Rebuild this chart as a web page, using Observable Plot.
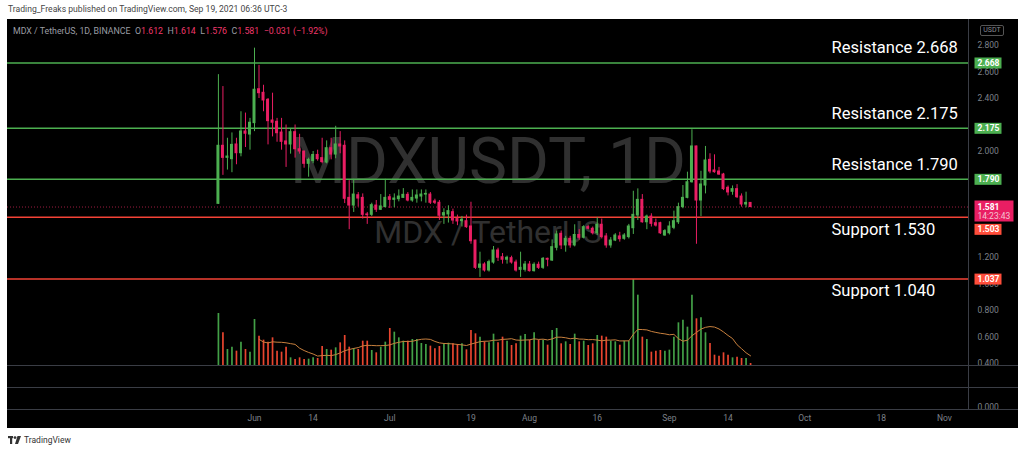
<!DOCTYPE html>
<html>
<head>
<meta charset="utf-8">
<script src="https://cdn.jsdelivr.net/npm/d3@7"></script>
<script src="https://cdn.jsdelivr.net/npm/@observablehq/plot@0.6"></script>
<style>
  html, body { margin: 0; padding: 0; background: #fff; }
  body { width: 1024px; height: 454px; position: relative; overflow: hidden; font-family: Roboto, "Liberation Sans", sans-serif; }
  #pub { position: absolute; left: 8px; top: 4px; font-size: 8.6px; color: #454545; white-space: nowrap; }
  #chart { position: absolute; left: 7px; top: 19px; width: 1011px; height: 409px; background: #000; overflow: hidden; }
  #chart svg { position: absolute; left: 0; overflow: visible; }
  .sep { position: absolute; left: 0; width: 1011px; height: 1px; background: #3a3d45; }
  #vsep { position: absolute; left: 961px; top: 0; width: 1px; height: 390px; background: #3a3d45; }
  #legend { position: absolute; left: 6px; top: 7px; font-size: 8.8px; color: #9a9ca3; white-space: nowrap; z-index: 5; }
  #legend .v { color: #f0386b; }
  #unit { position: absolute; left: 973px; top: 6px; width: 22px; height: 9px; border: 1px solid #555; border-radius: 2px; font-size: 7px; color: #8a8d95; text-align: center; line-height: 9px; z-index: 5; }
  #logo { position: absolute; left: 8px; top: 435px; font-size: 8.5px; color: #333; display: flex; align-items: center; gap: 3px; }
</style>
</head>
<body>
<div id="pub">Trading_Freaks published on TradingView.com, Sep 19, 2021 06:36 UTC-3</div>
<div id="chart">
  <div id="legend">MDX / TetherUS, 1D, BINANCE&nbsp; O<span class="v">1.612</span>&nbsp; H<span class="v">1.614</span>&nbsp; L<span class="v">1.576</span>&nbsp; C<span class="v">1.581</span>&nbsp; <span class="v">−0.031 (−1.92%)</span></div>
  <div id="unit">USDT</div>
</div>
<div id="logo"><svg width="13" height="8" viewBox="0 0 13 8"><rect x="0" y="0" width="5" height="2.2" fill="#333"/><rect x="2" y="0" width="2.2" height="8" fill="#333"/><circle cx="7" cy="1.6" r="1.4" fill="#333"/><path d="M9.5 0 H13 L10 8 H7 Z" fill="#333"/></svg><span>TradingView</span></div>
<script>
// ---- data (daily candles, first candle 2021-05-24) ----
const firstDay = "2021-05-24";
const open  = [1.605,2.043,1.952,1.942,2.053,1.987,2.151,2.128,2.214,2.47,2.443,2.39,2.234,2.224,2.143,2.076,2.053,2.146,2.017,2.00,1.907,1.927,1.974,1.95,1.917,2.025,1.977,2.053,2.043,1.65,1.592,1.67,1.65,1.525,1.522,1.592,1.56,1.58,1.655,1.635,1.64,1.65,1.673,1.63,1.645,1.66,1.675,1.675,1.623,1.613,1.517,1.525,1.542,1.49,1.474,1.474,1.434,1.328,1.122,1.147,1.102,1.162,1.253,1.202,1.183,1.195,1.162,1.107,1.107,1.147,1.097,1.145,1.122,1.19,1.177,1.273,1.379,1.291,1.341,1.291,1.37,1.349,1.429,1.417,1.383,1.447,1.359,1.291,1.328,1.359,1.341,1.354,1.421,1.517,1.635,1.466,1.509,1.459,1.459,1.366,1.383,1.424,1.466,1.58,1.65,1.768,2.038,1.63,1.743,1.937,1.857,1.849,1.826,1.726,1.696,1.716,1.66,1.60,1.612];
const high  = [2.58,2.49,2.10,2.14,2.10,2.30,2.29,2.25,2.78,2.65,2.50,2.40,2.44,2.25,2.25,2.20,2.17,2.20,2.13,2.00,1.95,2.00,2.01,2.10,2.08,2.10,2.19,2.15,2.08,1.78,1.79,1.69,1.68,1.54,1.61,1.63,1.675,1.79,1.675,1.68,1.71,1.72,1.69,1.71,1.71,1.71,1.71,1.69,1.64,1.63,1.568,1.59,1.565,1.52,1.51,1.52,1.617,1.33,1.24,1.16,1.18,1.283,1.27,1.23,1.21,1.21,1.18,1.24,1.17,1.17,1.16,1.165,1.20,1.195,1.333,1.40,1.40,1.36,1.36,1.447,1.41,1.44,1.44,1.43,1.50,1.49,1.38,1.35,1.38,1.39,1.38,1.45,1.70,1.718,1.675,1.52,1.53,1.49,1.466,1.41,1.47,1.55,1.61,1.743,1.844,2.164,2.04,1.851,2.038,1.983,1.975,1.88,1.835,1.74,1.74,1.75,1.68,1.693,1.614];
const low   = [1.60,1.82,1.86,1.84,1.90,1.96,2.03,2.01,2.15,2.40,2.30,2.05,2.11,2.07,2.01,1.88,1.98,1.95,1.98,1.874,1.806,1.907,1.927,1.907,1.907,1.937,1.945,1.983,1.607,1.41,1.54,1.58,1.49,1.45,1.51,1.54,1.555,1.575,1.57,1.575,1.62,1.645,1.62,1.617,1.61,1.62,1.61,1.60,1.60,1.48,1.45,1.46,1.45,1.44,1.43,1.42,1.30,1.11,1.05,1.09,1.09,1.15,1.17,1.15,1.15,1.15,1.09,1.05,1.09,1.09,1.09,1.11,1.11,1.13,1.17,1.25,1.26,1.24,1.27,1.28,1.33,1.34,1.41,1.37,1.366,1.34,1.27,1.27,1.32,1.316,1.33,1.34,1.374,1.479,1.459,1.41,1.43,1.43,1.374,1.36,1.37,1.41,1.45,1.568,1.643,1.761,1.30,1.509,1.68,1.832,1.836,1.82,1.705,1.665,1.67,1.645,1.58,1.575,1.576];
const close = [2.043,1.952,1.962,2.05,1.987,2.151,2.134,2.217,2.466,2.44,2.385,2.229,2.217,2.138,2.073,2.053,2.146,2.017,2.00,1.907,1.937,1.974,1.942,1.92,2.025,1.977,2.053,2.038,1.643,1.592,1.675,1.645,1.522,1.52,1.595,1.56,1.585,1.65,1.635,1.645,1.66,1.673,1.63,1.65,1.668,1.675,1.68,1.613,1.613,1.515,1.535,1.55,1.479,1.472,1.485,1.429,1.323,1.122,1.147,1.102,1.165,1.253,1.198,1.183,1.198,1.162,1.102,1.122,1.147,1.097,1.145,1.122,1.19,1.183,1.278,1.374,1.291,1.341,1.291,1.37,1.349,1.429,1.417,1.383,1.447,1.354,1.291,1.328,1.366,1.338,1.366,1.434,1.522,1.635,1.466,1.509,1.454,1.441,1.383,1.399,1.434,1.474,1.58,1.65,1.768,2.038,1.63,1.751,1.932,1.849,1.844,1.826,1.716,1.691,1.716,1.655,1.60,1.612,1.581];
// volume in relative units (read as bar heights)
const volume = [156,98,48,55,43,70,48,40,138,88,76,70,83,43,40,55,23,18,23,18,19,23,21,57,48,46,53,68,90,55,51,48,73,73,45,38,55,70,111,100,83,73,73,78,78,66,63,58,50,57,65,67,65,63,65,47,105,95,85,71,68,94,68,85,73,60,65,88,93,76,98,76,76,61,105,111,65,71,63,94,71,73,60,65,90,88,85,73,71,61,73,73,258,211,85,78,40,43,45,43,46,85,128,136,115,211,140,143,98,66,31,28,38,31,23,25,21,21,6];

const levelValues = [2.668, 2.175, 1.790, 1.503, 1.037];
const levelKinds  = ["Resistance", "Resistance", "Resistance", "Support", "Support"];
const levelNames  = ["Resistance 2.668", "Resistance 2.175", "Resistance 1.790", "Support 1.530", "Support 1.040"];
const levelTags   = ["2.668", "2.175", "1.790", "1.503", "1.037"];

const lastPrice = 1.581;
const lastPriceTag = "1.581";
const countdown = "14:23:43";

// price-scale ticks that remain visible (the others sit under the level tags)
const yTicks = [0.4, 0.6, 0.8, 1.0, 1.2, 2.0, 2.4, 2.6, 2.8];
const xTickDates  = ["2021-06-01","2021-06-14","2021-07-01","2021-07-19","2021-08-01","2021-08-16","2021-09-01","2021-09-14","2021-10-01","2021-10-18","2021-11-01"];
const xTickLabels = ["Jun","14","Jul","19","Aug","16","Sep","14","Oct","18","Nov"];
const watermark1 = "MDXUSDT, 1D";
const watermark2 = "MDX / TetherUS";

// ---- build tables ----
const GREEN = "#4caf50", PINK = "#e91e63", RED = "#f44336";
const VGREEN = "#43a047", VRED = "#e8452f";
const DAY = 864e5;
const t0 = new Date(firstDay + "T00:00:00Z");
const candles = open.map((o, i) => ({
  date: d3.utcDay.offset(t0, i),
  open: o, high: high[i], low: low[i], close: close[i], vol: volume[i],
  up: close[i] >= o
}));
const levels = levelValues.map((v, i) => ({value: v, kind: levelKinds[i], name: levelNames[i], tag: levelTags[i]}));
const resist = levels.filter(d => d.kind === "Resistance");
const support = levels.filter(d => d.kind === "Support");
// a level tag that would collide with the last-price tag is pushed just below it (as the price scale does)
const collides = d => Math.abs(d.value - lastPrice) < 0.1;
const tagsFree = levels.filter(d => !collides(d));
const tagsPushed = levels.filter(collides);
const tickDates = xTickDates.map(s => new Date(s + "T00:00:00Z"));
const tickLabelOf = new Map(tickDates.map((d, i) => [+d, xTickLabels[i]]));

const box = (w, h) => ({draw(ctx) { ctx.moveTo(-w/2, -h/2); ctx.lineTo(w/2, -h/2); ctx.lineTo(w/2, h/2); ctx.lineTo(-w/2, h/2); ctx.closePath(); }});
const tagFill = d => d.kind === "Resistance" ? GREEN : "#ff4d3a";

const FONT = "Roboto, 'Liberation Sans', sans-serif";
const xScale = {type: "utc", domain: [tickDates[0], tickDates[tickDates.length - 1]], range: [247, 937]};

// ---- main price pane ----
const main = Plot.plot({
  width: 1011, height: 409,
  marginLeft: 0, marginRight: 50, marginTop: 0, marginBottom: 19,
  style: {background: "transparent", fontFamily: FONT},
  x: xScale,
  y: {domain: [0.4, 2.8], range: [344, 26]},
  color: {type: "identity"},
  marks: [
    Plot.text([watermark1], {text: d => d, frameAnchor: "middle", dy: -52, fontSize: 64, fill: "#303030"}),
    Plot.text([watermark2], {text: d => d, frameAnchor: "middle", dy: 18, fontSize: 32, fill: "#303030"}),
    Plot.ruleY([lastPrice], {stroke: "#9c1b40", strokeDasharray: "1 2"}),
    Plot.ruleY(resist, {y: "value", stroke: GREEN, strokeWidth: 1.5}),
    Plot.ruleY(support, {y: "value", stroke: RED, strokeWidth: 1.5}),
    Plot.ruleX(candles, {filter: d => d.up, x: "date", y1: "low", y2: "high", stroke: GREEN}),
    Plot.ruleX(candles, {filter: d => !d.up, x: "date", y1: "low", y2: "high", stroke: PINK}),
    Plot.rect(candles, {filter: d => d.up, x1: d => new Date(+d.date - 0.33 * DAY), x2: d => new Date(+d.date + 0.33 * DAY), y1: "open", y2: "close", fill: GREEN, insetTop: -0.5, insetBottom: -0.5}),
    Plot.rect(candles, {filter: d => !d.up, x1: d => new Date(+d.date - 0.33 * DAY), x2: d => new Date(+d.date + 0.33 * DAY), y1: "open", y2: "close", fill: PINK, insetTop: -0.5, insetBottom: -0.5}),
    Plot.text(resist, {y: "value", text: "name", frameAnchor: "right", dx: -137, dy: -15, textAnchor: "start", fill: "#fff", fontSize: 16.5}),
    Plot.text(support, {y: "value", text: "name", frameAnchor: "right", dx: -137, dy: 12, textAnchor: "start", fill: "#fff", fontSize: 16.5}),
    Plot.axisY(yTicks, {anchor: "right", tickSize: 0, tickPadding: 9, tickFormat: d3.format(".3f"), fill: "#7d8089", fontSize: 8.5, label: null}),
    Plot.axisX(tickDates, {tickSize: 0, tickPadding: 5, tickFormat: d => tickLabelOf.get(+d), fill: "#7d8089", fontSize: 8.5, label: null}),
    Plot.dot(tagsFree, {y: "value", frameAnchor: "right", dx: 19.5, symbol: box(27, 11), fill: tagFill, stroke: null}),
    Plot.text(tagsFree, {y: "value", text: "tag", frameAnchor: "right", dx: 9, textAnchor: "start", fill: "#fff", fontSize: 8.5, fontWeight: "bold"}),
    Plot.dot(tagsPushed, {y: "value", frameAnchor: "right", dx: 19.5, dy: 12, symbol: box(27, 11), fill: tagFill, stroke: null}),
    Plot.text(tagsPushed, {y: "value", text: "tag", frameAnchor: "right", dx: 9, dy: 12, textAnchor: "start", fill: "#fff", fontSize: 8.5, fontWeight: "bold"}),
    Plot.dot([lastPrice], {y: d => d, frameAnchor: "right", dx: 25.5, dy: 4, symbol: box(39, 21), fill: PINK, stroke: null}),
    Plot.text([lastPriceTag], {y: () => lastPrice, text: d => d, frameAnchor: "right", dx: 9, textAnchor: "start", fill: "#fff", fontSize: 8.5, fontWeight: "bold"}),
    Plot.text([countdown], {y: () => lastPrice, text: d => d, frameAnchor: "right", dx: 9, dy: 9.5, textAnchor: "start", fill: "#f3c3d2", fontSize: 8.5})
  ]
});

// ---- volume overlay ----
const vol = Plot.plot({
  width: 1011, height: 390,
  marginLeft: 0, marginRight: 50, marginTop: 0, marginBottom: 0,
  style: {background: "transparent"},
  x: {...xScale, axis: null},
  y: {domain: [0, 258], range: [346, 260], axis: null},
  marks: [
    Plot.ruleX(candles, {filter: d => d.up, x: "date", y1: 0, y2: "vol", stroke: VGREEN, strokeWidth: 1.7}),
    Plot.ruleX(candles, {filter: d => !d.up, x: "date", y1: 0, y2: "vol", stroke: VRED, strokeWidth: 1.7}),
    Plot.lineY(candles, Plot.windowY({k: 10, anchor: "end", strict: true}, {x: "date", y: "vol", stroke: "#c8803e", strokeWidth: 1}))
  ]
});

// ---- lower (empty) pane with its own scale ----
const pane = Plot.plot({
  width: 1011, height: 30,
  marginLeft: 0, marginRight: 50, marginTop: 0, marginBottom: 0,
  style: {background: "transparent", fontFamily: FONT},
  x: {...xScale, axis: null},
  y: {domain: [0, 1], range: [19.5, 0]},
  marks: [
    Plot.axisY([0], {anchor: "right", tickSize: 0, tickPadding: 9, tickFormat: d3.format(".3f"), fill: "#7d8089", fontSize: 8.5, label: null})
  ]
});

const chart = document.getElementById("chart");
vol.style.top = "0px";
main.style.top = "0px";
pane.style.top = "368px";
chart.appendChild(vol);
chart.appendChild(main);
chart.appendChild(pane);
[346, 368, 390].forEach(t => {
  const s = document.createElement("div");
  s.className = "sep"; s.style.top = t + "px";
  chart.appendChild(s);
});
const v = document.createElement("div"); v.id = "vsep"; chart.appendChild(v);
</script>
</body>
</html>
